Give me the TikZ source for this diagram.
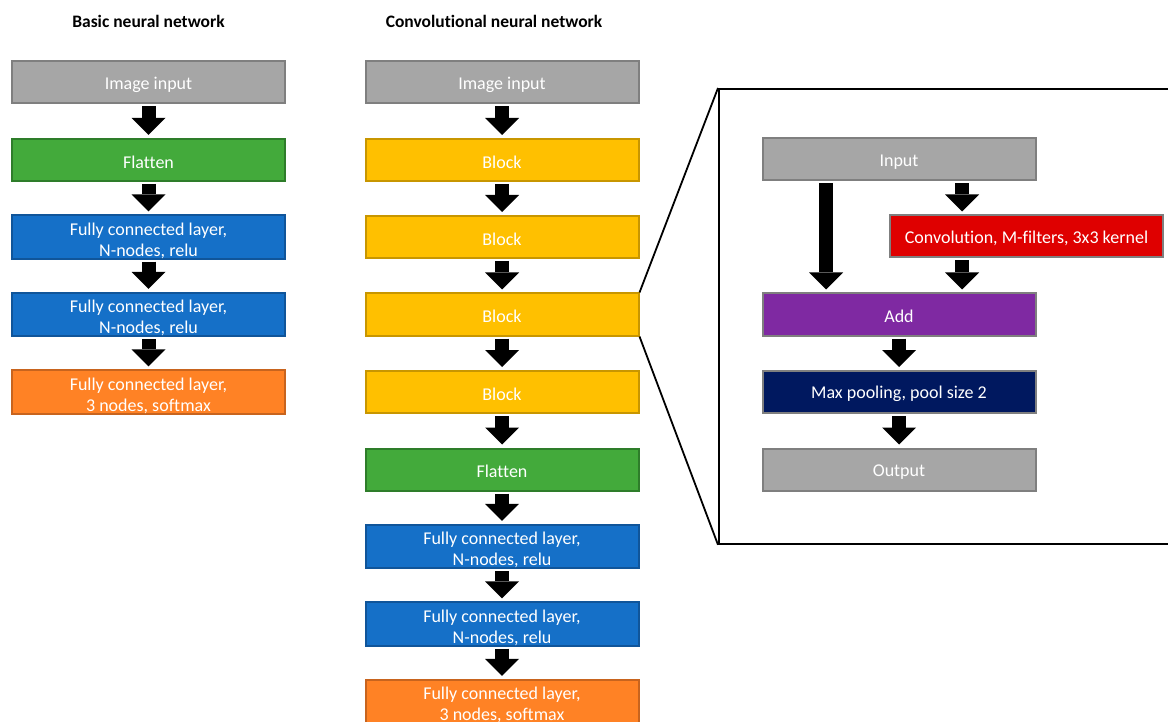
\documentclass[tikz,border=0pt]{standalone}
\usepackage{fontspec}
\setmainfont{Carlito}[Ligatures=NoCommon]
\usetikzlibrary{arrows.meta,positioning}
\definecolor{grayF}{HTML}{A6A6A6}
\definecolor{grayD}{HTML}{7F7F7F}
\definecolor{greenF}{HTML}{43AA3B}
\definecolor{greenD}{HTML}{2E7D2A}
\definecolor{blueF}{HTML}{1570C8}
\definecolor{blueD}{HTML}{10559A}
\definecolor{orangeF}{HTML}{FF8225}
\definecolor{orangeD}{HTML}{C8641E}
\definecolor{yellowF}{HTML}{FFC000}
\definecolor{yellowD}{HTML}{C89600}
\definecolor{redF}{HTML}{DF0000}
\definecolor{purpleF}{HTML}{7F29A2}
\definecolor{navyF}{HTML}{00185F}
\newcommand\mytallstrut{\rule{0pt}{20pt}}
\tikzset{
  box/.style={draw, line width=2pt, minimum width=273pt, minimum height=42pt,
    inner sep=0pt, align=center, text=white,
    font=\fontsize{18}{21}\selectfont,
    execute at begin node={\rule{0pt}{17pt}}},
  graybox/.style={box, fill=grayF, draw=grayD},
  greenbox/.style={box, fill=greenF, draw=greenD},
  bluebox/.style={box, fill=blueF, draw=blueD},
  orangebox/.style={box, fill=orangeF, draw=orangeD},
  yellowbox/.style={box, fill=yellowF, draw=yellowD},
  redbox/.style={box, fill=redF, draw=grayD},
  purplebox/.style={box, fill=purpleF, draw=grayD},
  navybox/.style={box, fill=navyF, draw=grayD},
  title/.style={font=\fontsize{17.5}{20}\selectfont\bfseries, text=black},
  barrow/.style={line width=14pt, line cap=butt,
    -{Triangle[width=34pt,length=17pt,line width=0pt]},
    shorten <=2pt, shorten >=3pt},
  zoomline/.style={line width=1.8pt, black}
}
\begin{document}
\begin{tikzpicture}[x=1pt,y=-1pt]
\useasboundingbox (0,0) rectangle (1168,722);
\clip (0,0) rectangle (1168,722);
\fill[white] (0,0) rectangle (1168,722);
% titles
\node[title] (t1) at (148.5,21) {Basic neural network};
\node[title] (t2) at (494,21) {Convolutional neural network};
% left column
\node[graybox]   (l1) at (148.5,82.5) {Image input};
\node[greenbox]  (l2) at (148.5,160) {Flatten};
\node[bluebox]   (l3) at (148.5,237) {\mytallstrut Fully connected layer,\\N-nodes, relu};
\node[bluebox]   (l4) at (148.5,314.5) {\mytallstrut Fully connected layer,\\N-nodes, relu};
\node[orangebox] (l5) at (148.5,392) {\mytallstrut Fully connected layer,\\3 nodes, softmax};
\foreach \a/\b in {l1/l2,l2/l3,l3/l4,l4/l5} \draw[barrow] (\a.south) -- (\b.north);
% middle column
\node[graybox]   (m1) at (502,82.5) {Image input};
\node[yellowbox] (m2) at (502,160) {Block};
\node[yellowbox] (m3) at (502,237) {Block};
\node[yellowbox] (m4) at (502,314.5) {Block};
\node[yellowbox] (m5) at (502,392) {Block};
\node[greenbox]  (m6) at (502,469.5) {Flatten};
\node[bluebox]   (m7) at (502,546.5) {\mytallstrut Fully connected layer,\\N-nodes, relu};
\node[bluebox]   (m8) at (502,624) {\mytallstrut Fully connected layer,\\N-nodes, relu};
\node[orangebox] (m9) at (502,701.5) {\mytallstrut Fully connected layer,\\3 nodes, softmax};
\foreach \a/\b in {m1/m2,m2/m3,m3/m4,m4/m5,m5/m6,m6/m7,m7/m8,m8/m9} \draw[barrow] (\a.south) -- (\b.north);
% inset frame
\node[draw=black, line width=1.8pt, anchor=north west, minimum width=480pt, minimum height=455pt, inner sep=0pt] (frame) at (718,88) {};
\draw[zoomline] (m4.north east) -- (frame.north west);
\draw[zoomline] (m4.south east) -- (frame.south west);
% inset content
\node[graybox]   (inp)  at (899,159.5) {Input};
\node[redbox]    (conv) at (1026.5,236.5) {Convolution, M-filters, 3x3 kernel};
\node[purplebox] (add)  at (899,314.5) {Add};
\node[navybox]   (pool) at (899,392) {Max pooling, pool size 2};
\node[graybox]   (out)  at (899,469.5) {Output};
\draw[barrow] ([xshift=-73pt]inp.south) -- ([xshift=-73pt]add.north);
\draw[barrow] ([xshift=63pt]inp.south) -- ([xshift=-64.5pt]conv.north);
\draw[barrow] ([xshift=-64.5pt]conv.south) -- ([xshift=63pt]add.north);
\draw[barrow] (add.south) -- (pool.north);
\draw[barrow] (pool.south) -- (out.north);
\end{tikzpicture}
\end{document}
